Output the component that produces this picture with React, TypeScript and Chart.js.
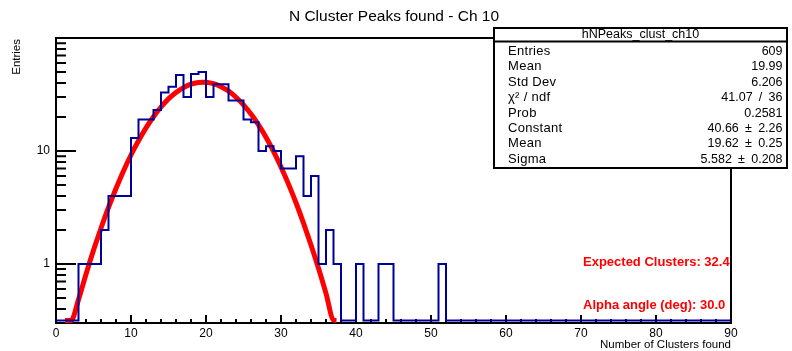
import React, { useEffect, useRef } from "react";
import { Chart, registerables } from "chart.js";

Chart.register(...registerables);

const FONT = "'Liberation Sans', Arial, Helvetica, sans-serif";

const TITLE = "N Cluster Peaks found - Ch 10";
const X_TITLE = "Number of Clusters found";
const Y_TITLE = "Entries";

const X_MIN = 0;
const X_MAX = 90;
const BIN_WIDTH = 1;
const Y_MIN = 0.3162;
const Y_MAX = 100;

const X_TICK_LABELS = [0, 10, 20, 30, 40, 50, 60, 70, 80, 90];
const Y_TICK_LABELS = [1, 10];

// histogram bin contents, bins of width 1 starting at 0
const COUNTS = [
  0, 0, 0, 1, 1, 1, 2, 4, 4, 4,
  13, 19, 19, 23, 33, 37, 47, 30, 48, 50,
  30, 39, 39, 28, 28, 19, 18, 10, 11, 10,
  7, 7, 9, 4, 6, 1, 2, 1, 0, 0,
  1, 0, 0, 1, 1, 0, 0, 0, 0, 0,
  0, 1, 0, 0, 0, 0, 0, 0, 0, 0,
  0, 0, 0, 0, 0, 0, 0, 0, 0, 0,
  0, 0, 0, 0, 0, 0, 0, 0, 0, 0,
  0, 0, 0, 0, 0, 0, 0, 0, 0, 0,
];

// gaussian fit curve
const FIT_X = [
  1.2, 2, 3, 4, 5, 6, 7, 8, 9, 10, 11, 12, 13, 14, 15, 16, 17, 18, 19, 19.62,
  20, 21, 22, 23, 24, 25, 26, 27, 28, 29, 30, 31, 32, 33, 34, 35, 36, 37, 37.4,
];
const FIT_Y = [
  0.176, 0.279, 0.483, 0.811, 1.32, 2.07, 3.16, 4.66, 6.66, 9.21, 12.3, 16.0,
  20.1, 24.5, 28.9, 32.9, 36.4, 39.0, 40.4, 40.66, 40.57, 39.4, 37.1, 33.9,
  29.9, 25.6, 21.2, 17.0, 13.2, 9.91, 7.22, 5.09, 3.48, 2.30, 1.47, 0.914,
  0.549, 0.319, 0.255,
];

const STATS_TITLE = "hNPeaks_clust_ch10";
const STATS_LABELS = ["Entries", "Mean", "Std Dev", "χ² / ndf", "Prob", "Constant", "Mean", "Sigma"];
const STATS_VALUES = [
  "609",
  "19.99",
  "6.206",
  "41.07\u2002/\u200236",
  "0.2581",
  "40.66\u2002±\u20022.26",
  "19.62\u2002±\u20020.25",
  "5.582\u2002±\u20020.208",
];

const NOTES = ["Expected Clusters: 32.4", "Alpha angle (deg): 30.0"];

const rootPlugin = {
  id: "rootStyle",
  beforeDatasetsDraw(chart: any) {
    const { ctx, chartArea: a, scales } = chart;
    const xs = scales.x;
    const ys = scales.y;
    ctx.save();
    ctx.strokeStyle = "#000";
    ctx.lineWidth = 2;
    ctx.strokeRect(a.left, a.top, a.right - a.left, a.bottom - a.top);
    ctx.beginPath();
    for (let v = X_MIN; v <= X_MAX; v += 2) {
      const px = xs.getPixelForValue(v);
      const len = v % 10 === 0 ? 8 : 4;
      ctx.moveTo(px, a.bottom);
      ctx.lineTo(px, a.bottom - len);
    }
    for (const dec of [0.1, 1, 10]) {
      for (let m = 1; m <= 9; m++) {
        const v = m * dec;
        if (v < Y_MIN || v > Y_MAX) continue;
        const py = ys.getPixelForValue(v);
        const len = m === 1 ? 20 : 10;
        ctx.moveTo(a.left, py);
        ctx.lineTo(a.left + len, py);
      }
    }
    ctx.stroke();
    ctx.restore();
  },
  afterDraw(chart: any) {
    const { ctx, chartArea: a } = chart;
    ctx.save();
    ctx.fillStyle = "#000";
    ctx.font = `15.5px ${FONT}`;
    ctx.textAlign = "center";
    ctx.textBaseline = "alphabetic";
    ctx.fillText(TITLE, 394, 20.5);
    ctx.font = `11.5px ${FONT}`;
    ctx.textAlign = "right";
    ctx.fillText(X_TITLE, a.right, 348);
    ctx.save();
    ctx.translate(20, a.top + 1);
    ctx.rotate(-Math.PI / 2);
    ctx.textAlign = "right";
    ctx.fillText(Y_TITLE, 0, 0);
    ctx.restore();

    const bx = 494, by = 28, bw = 293, bh = 140;
    ctx.fillStyle = "#fff";
    ctx.fillRect(bx, by, bw, bh);
    ctx.strokeStyle = "#000";
    ctx.lineWidth = 2;
    ctx.strokeRect(bx, by, bw, bh);
    ctx.beginPath();
    ctx.moveTo(bx, 41.5);
    ctx.lineTo(bx + bw, 41.5);
    ctx.stroke();
    ctx.fillStyle = "#000";
    ctx.font = `12.5px ${FONT}`;
    ctx.textBaseline = "middle";
    ctx.textAlign = "center";
    ctx.fillText(STATS_TITLE, bx + bw / 2, 35);
    STATS_LABELS.forEach((lab, i) => {
      const y = 51.5 + 15.4 * i;
      ctx.font = `13px ${FONT}`;
      (ctx as any).letterSpacing = "0.3px";
      ctx.textAlign = "left";
      ctx.fillText(lab, 508, y);
      (ctx as any).letterSpacing = "0px";
      ctx.font = `12.5px ${FONT}`;
      ctx.textAlign = "right";
      ctx.fillText(STATS_VALUES[i], 782.5, y);
    });

    ctx.fillStyle = "#ff0000";
    ctx.font = `bold 13px ${FONT}`;
    ctx.textAlign = "left";
    ctx.textBaseline = "alphabetic";
    ctx.fillText(NOTES[0], 583, 265.5);
    ctx.fillText(NOTES[1], 583, 308.5);
    ctx.restore();
  },
};

export default function App() {
  const ref = useRef<HTMLCanvasElement | null>(null);
  useEffect(() => {
    if (!ref.current) return;
    const histPoints = COUNTS.map((c, i) => ({ x: X_MIN + i * BIN_WIDTH, y: Math.max(c, Y_MIN) }));
    histPoints.push({ x: X_MIN + COUNTS.length * BIN_WIDTH, y: Math.max(COUNTS[COUNTS.length - 1], Y_MIN) });
    const fitPoints = FIT_X.map((x, i) => ({ x, y: Math.max(FIT_Y[i], Y_MIN) }));

    const chart = new Chart(ref.current, {
      type: "line",
      data: {
        datasets: [
          {
            label: "hist",
            data: histPoints,
            stepped: "before",
            borderColor: "#000099",
            borderWidth: 2,
            pointRadius: 0,
            fill: false,
            clip: false,
          } as any,
          {
            label: "fit",
            data: fitPoints,
            borderColor: "#ff0000",
            borderWidth: 5,
            pointRadius: 0,
            fill: false,
            cubicInterpolationMode: "monotone",
            clip: false,
          } as any,
        ],
      },
      options: {
        responsive: false,
        animation: false,
        devicePixelRatio: 1,
        layout: { padding: { top: 38, right: 61, left: 0, bottom: 0 } },
        plugins: {
          legend: { display: false },
          tooltip: { enabled: false },
          title: { display: false },
        },
        scales: {
          x: {
            type: "linear",
            min: X_MIN,
            max: X_MAX,
            afterBuildTicks: (s: any) => {
              s.ticks = X_TICK_LABELS.map((v) => ({ value: v }));
            },
            afterFit: (s: any) => {
              s.height = 28;
            },
            grid: { display: false, drawTicks: false },
            border: { display: false },
            ticks: {
              color: "#000",
              font: { family: FONT, size: 12 },
              padding: 3,
              maxRotation: 0,
              autoSkip: false,
              callback: (v: any) => String(v),
            },
          },
          y: {
            type: "logarithmic",
            min: Y_MIN,
            max: Y_MAX,
            afterBuildTicks: (s: any) => {
              s.ticks = Y_TICK_LABELS.map((v) => ({ value: v }));
            },
            afterFit: (s: any) => {
              s.width = 56;
            },
            grid: { display: false, drawTicks: false },
            border: { display: false },
            ticks: {
              color: "#000",
              font: { family: FONT, size: 12 },
              padding: 6,
              autoSkip: false,
              callback: (v: any) => String(v),
            },
          },
        },
      },
      plugins: [rootPlugin],
    });
    return () => chart.destroy();
  }, []);

  return (
    <div style={{ position: "fixed", left: 0, top: 0, width: 792, height: 351, background: "#fff" }}>
      <canvas ref={ref} width={792} height={351} />
    </div>
  );
}
